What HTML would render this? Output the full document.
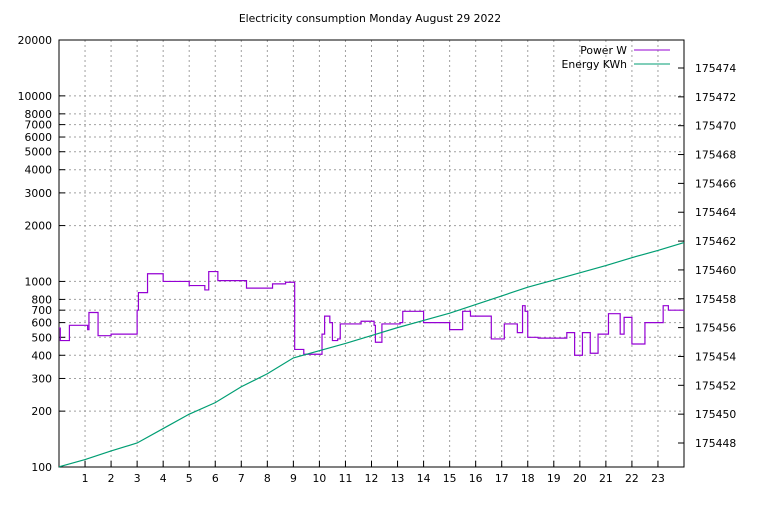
<!DOCTYPE html>
<html><head><meta charset="utf-8"><style>
body{margin:0;background:#fff}
svg text{font-family:"DejaVu Sans","Liberation Sans",sans-serif;font-size:10.8px;fill:#000}
</style></head><body>
<svg id="c" width="768" height="500" xmlns="http://www.w3.org/2000/svg">
<text x="370" y="22" text-anchor="middle">Electricity consumption Monday August 29 2022</text>
<g id="grid"></g><g id="axes"></g><g id="series"></g>
<g>
<text x="627" y="54" text-anchor="end">Power W</text>
<line x1="634" y1="50" x2="670" y2="50" stroke="#9400d3" stroke-width="1"/>
<text x="627" y="68" text-anchor="end">Energy KWh</text>
<line x1="634" y1="64" x2="670" y2="64" stroke="#009e73" stroke-width="1"/>
</g>
</svg>
<script>
const powerTimes=[0,0.05,0.4,1.1,1.15,1.5,2.0,3.0,3.05,3.4,4.0,5.0,5.6,5.75,6.1,7.2,8.2,8.7,9.05,9.4,10.1,10.2,10.4,10.5,10.7,10.8,11.6,12.1,12.15,12.4,13.1,13.2,14.0,15.0,15.5,15.8,16.6,17.1,17.6,17.8,17.9,18.0,18.4,19.2,19.5,19.8,20.1,20.4,20.7,21.1,21.55,21.7,22.0,22.5,23.2,23.4,24];
const powerValues=[560,480,580,550,680,510,520,700,870,1100,1000,950,900,1130,1010,920,970,990,430,405,520,650,600,480,490,590,610,580,470,590,600,690,600,550,690,650,490,590,530,740,690,500,495,495,530,400,530,410,520,670,520,640,460,600,740,700,700];
const energyTimes=[0,1,2,3,4,5,6,7,8,9,10,11,12,13,14,15,16,17,18,19,20,21,22,23,24];
const energyValues=[175446.35,175446.85,175447.45,175448.0,175449.0,175450.0,175450.8,175451.9,175452.8,175453.9,175454.4,175454.9,175455.45,175456.0,175456.5,175457.0,175457.6,175458.2,175458.8,175459.3,175459.8,175460.3,175460.85,175461.35,175461.9];
const leftTicks=[100,200,300,400,500,600,700,800,1000,2000,3000,4000,5000,6000,7000,8000,10000,20000];
const rightTicks=[175448,175450,175452,175454,175456,175458,175460,175462,175464,175466,175468,175470,175472,175474];
const xTicks=[1,2,3,4,5,6,7,8,9,10,11,12,13,14,15,16,17,18,19,20,21,22,23];
const L=59,R=684,T=40,B=467;
const NS="http://www.w3.org/2000/svg";
function xs(h){return L+(R-L)*h/24;}
function yl(v){return B-(B-T)*(Math.log10(v)-2)/Math.log10(200);}
function yr(v){return 443-(v-175448)*(443-68)/26;}
function mk(tag,attrs,parent){const e=document.createElementNS(NS,tag);for(const k in attrs)e.setAttribute(k,attrs[k]);parent.appendChild(e);return e;}
const grid=document.getElementById('grid'),axes=document.getElementById('axes'),series=document.getElementById('series');
const g={stroke:"#a0a0a0","stroke-dasharray":"2,3","stroke-width":"1"};
leftTicks.forEach(v=>{const y=yl(v);
 if(v>100&&v<20000){const l=mk('line',Object.assign({x1:L,x2:R,y1:y,y2:y},g),grid);
 
 }
 const tk=mk('line',{x1:L,x2:L+6,y1:y,y2:y,stroke:"#000"},axes);
 
 
 const t=mk('text',{x:L-7,y:y+4,"text-anchor":"end"},axes);t.textContent=v;
 
 });
rightTicks.forEach(v=>{const y=yr(v);
 const tk=mk('line',{x1:R-6,x2:R,y1:y,y2:y,stroke:"#000"},axes);
 
 
 const t=mk('text',{x:R+11,y:y+4},axes);t.textContent=v;
 
 });
xTicks.forEach(h=>{const x=xs(h);
 const l=mk('line',Object.assign({x1:x,x2:x,y1:T,y2:B},g),grid);
 
 
 const tk=mk('line',{x1:x,x2:x,y1:B-6,y2:B,stroke:"#000"},axes);
 
 
 const t=mk('text',{x:x,y:B+15,"text-anchor":"middle"},axes);t.textContent=h;
 
 });
const frame=mk('rect',{x:L,y:T,width:R-L,height:B-T,fill:"none",stroke:"#000"},axes);


let d="";
for(let i=0;i<powerTimes.length;i++){const x=xs(powerTimes[i]),y=yl(powerValues[i]);
 if(i===0)d+="M"+x+","+y;else d+="H"+x+"V"+y;}
const pp=mk('path',{d:d,fill:"none",stroke:"#9400d3","stroke-width":"1.2"},series);


const ep=mk('polyline',{points:energyTimes.map((t,i)=>xs(t)+","+yr(energyValues[i])).join(" "),fill:"none",stroke:"#009e73","stroke-width":"1.2"},series);


</script>
</body></html>
